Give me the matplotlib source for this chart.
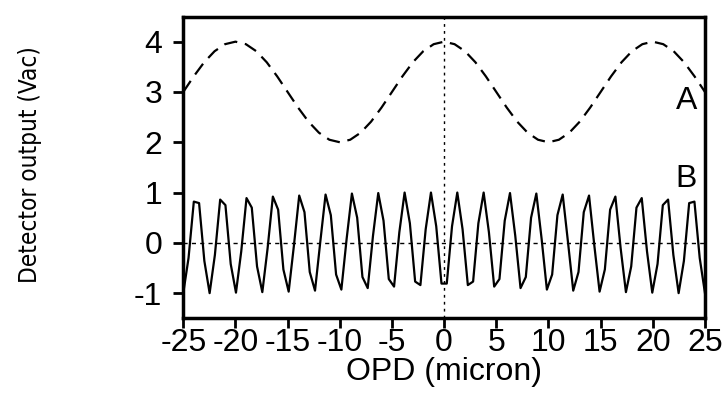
import numpy as np
import matplotlib
matplotlib.use("Agg")
import matplotlib.pyplot as plt
from matplotlib import font_manager

plt.rcParams['font.family'] = ['Liberation Sans', 'DejaVu Sans']
plt.rcParams['axes.unicode_minus'] = False

# Curve A: slow fringe (read at whole microns, -25 .. 25)
opd_a = list(range(-25, 26))
half_a = [3.00, 3.31, 3.59, 3.81, 3.95, 4.00, 3.95, 3.81, 3.59, 3.31,
          3.00, 2.69, 2.41, 2.19, 2.05, 2.00, 2.05, 2.19, 2.41, 2.69,
          3.00, 3.31, 3.59, 3.81, 3.95]
curve_a = half_a + [4.00] + half_a[::-1]

# Curve B: fast fringe, 100 samples across -25 .. 25
opd_b = np.linspace(-25, 25, 100)
half_b = [-1.00, -0.30, 0.82, 0.79, -0.36,
          -1.00, -0.24, 0.86, 0.75, -0.42,
          -0.99, -0.17, 0.89, 0.70, -0.47,
          -0.98, -0.11, 0.92, 0.66, -0.53,
          -0.97, -0.05, 0.94, 0.61, -0.58,
          -0.95, 0.02, 0.96, 0.55, -0.63,
          -0.93, 0.08, 0.98, 0.50, -0.68,
          -0.90, 0.14, 0.99, 0.44, -0.72,
          -0.87, 0.21, 1.00, 0.39, -0.77,
          -0.84, 0.27, 1.00, 0.33, -0.81]
curve_b = half_b + half_b[::-1]

xticks = list(range(-25, 30, 5))
yticks = [-1, 0, 1, 2, 3, 4]

# narrow face for the y label if one is installed
installed = {(f.name, f.stretch) for f in font_manager.fontManager.ttflist}
if any(n == 'Liberation Sans Narrow' for n, _ in installed):
    ylab_font = dict(family='Liberation Sans Narrow', fontsize=20.5)
elif ('DejaVu Sans', 'condensed') in installed or any(n == 'DejaVu Sans Condensed' for n, _ in installed):
    ylab_font = dict(family='DejaVu Sans', fontstretch='condensed', fontsize=17.5)
else:
    ylab_font = dict(fontsize=17.5)

fig = plt.figure(figsize=(7.27, 3.99), dpi=100)
ax = fig.add_axes([0.2521, 0.2023, 0.7176, 0.7563])

ax.axhline(0, color='black', lw=1.0, ls=(0, (3, 3)), zorder=1)
ax.axvline(0, color='black', lw=1.0, ls=(0, (2, 3)), zorder=1)

ax.plot(opd_a, curve_a, color='black', lw=1.6, ls=(0, (6, 3.5)))
ax.plot(opd_b, curve_b, color='black', lw=1.6)

ax.text(23.2, 2.83, 'A', fontsize=23, ha='center', va='center')
ax.text(23.2, 1.26, 'B', fontsize=23, ha='center', va='center')

ax.set_xlim(-25, 25)
ax.set_ylim(-1.5, 4.5)
ax.set_xticks(xticks)
ax.set_yticks(yticks)
ax.tick_params(direction='out', length=7, width=2, labelsize=23)
ax.tick_params(axis='x', pad=0)
ax.tick_params(axis='y', pad=8)

for s in ax.spines.values():
    s.set_linewidth(2.5)

ax.set_xlabel('OPD (micron)', fontsize=23)
ax.xaxis.set_label_coords(0.5, -0.178)
ax.xaxis.label.set_va('center')
ax.set_ylabel('Detector output (Vac)', **ylab_font)
ax.yaxis.set_label_coords(-0.294, 0.51)
ax.yaxis.label.set_va('center')

fig.savefig('out.png', dpi=100)
